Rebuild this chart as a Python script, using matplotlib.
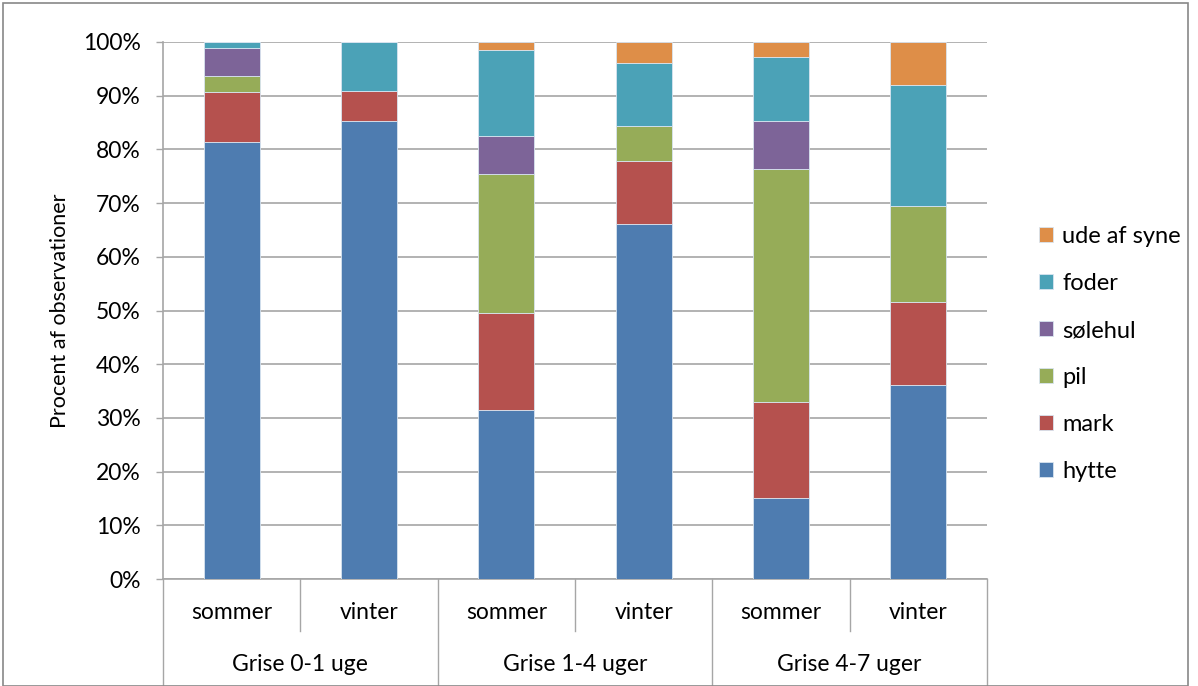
import matplotlib
matplotlib.use("Agg")
import matplotlib.pyplot as plt
from matplotlib.patches import Rectangle
from matplotlib.lines import Line2D
import numpy as np

plt.rcParams["font.family"] = ["Lato", "DejaVu Sans"]

groups = ["Grise 0-1 uge", "Grise 1-4 uger", "Grise 4-7 uger"]
seasons = ["sommer", "vinter"]
series = ["hytte", "mark", "pil", "sølehul", "foder", "ude af syne"]

hytte = [81.4, 85.2, 31.5, 66.2, 15.1, 36.2]
mark = [9.2, 5.7, 18.0, 11.6, 17.8, 15.4]
pil = [3.1, 0.0, 25.9, 6.6, 43.4, 17.9]
solehul = [5.2, 0.0, 7.1, 0.0, 9.0, 0.0]
foder = [1.1, 9.1, 16.1, 11.7, 11.9, 22.5]
ude = [0.0, 0.0, 1.4, 3.9, 2.8, 8.0]

colors = ["#4E7CB0", "#B5514E", "#96AC58", "#7D6498", "#4BA2B7", "#DE8E48"]

values = np.array([hytte, mark, pil, solehul, foder, ude])
values = values / values.sum(axis=0) * 100

fig = plt.figure(figsize=(11.98, 6.86), dpi=100)
ax = fig.add_axes([163 / 1198, 1 - 579 / 686, (987 - 163) / 1198, (579 - 42) / 686])

x = np.arange(len(hytte))
bottom = np.zeros(len(hytte))
for name, vals, c in zip(series, values, colors):
    ax.bar(x, vals, 0.41, bottom=bottom, color=c, label=name,
           edgecolor="#D8E4F0", linewidth=0.6, zorder=3)
    bottom += vals

ax.set_xlim(-0.5, len(hytte) - 0.5)
ax.set_ylim(0, 100)
ax.set_yticks(np.arange(0, 101, 10))
ax.set_yticklabels([f"{v}%" for v in range(0, 101, 10)], fontsize=16.5)
ax.set_xticks([])
ax.yaxis.grid(True, color="#A6A6A6", linewidth=1.2, zorder=0)
ax.tick_params(axis="y", length=5, width=1, color="#A6A6A6", pad=11)
for s in ["top", "right"]:
    ax.spines[s].set_visible(False)
ax.spines["left"].set_color("#A6A6A6")
ax.spines["bottom"].set_color("#A6A6A6")
ax.spines["left"].set_linewidth(1.2)
ax.spines["bottom"].set_linewidth(1.2)
ax.set_ylabel("Procent af observationer", fontsize=15.5, labelpad=9)

# two-level category axis
trans = ax.get_xaxis_transform()
for i in range(len(hytte)):
    ax.text(i, -0.063, seasons[i % 2], transform=trans, ha="center", va="center",
            fontsize=16.5)
for g, name in enumerate(groups):
    ax.text(2 * g + 0.5, -0.16, name, transform=trans, ha="center", va="center",
            fontsize=16.5)
for g in range(len(groups) + 1):
    ax.add_line(Line2D([2 * g - 0.5] * 2, [0, -0.2], transform=trans, color="#A6A6A6",
                       linewidth=1, clip_on=False))
for g in range(len(groups)):
    ax.add_line(Line2D([2 * g + 0.5] * 2, [0, -0.097], transform=trans, color="#A6A6A6",
                       linewidth=1, clip_on=False))

handles, labels = ax.get_legend_handles_labels()
leg = fig.legend(handles[::-1], labels[::-1], loc="center left",
                 bbox_to_anchor=(1018 / 1198, 1 - 354 / 686), frameon=False,
                 fontsize=17, handlelength=0.58, handleheight=0.58,
                 labelspacing=1.1, handletextpad=0.4)

fig.patches.append(Rectangle((3 / 1198, 0), 1185 / 1198, 1 - 3 / 686,
                             transform=fig.transFigure, fill=False,
                             edgecolor="#888888", linewidth=1.2))

fig.savefig("out.png", dpi=100)
